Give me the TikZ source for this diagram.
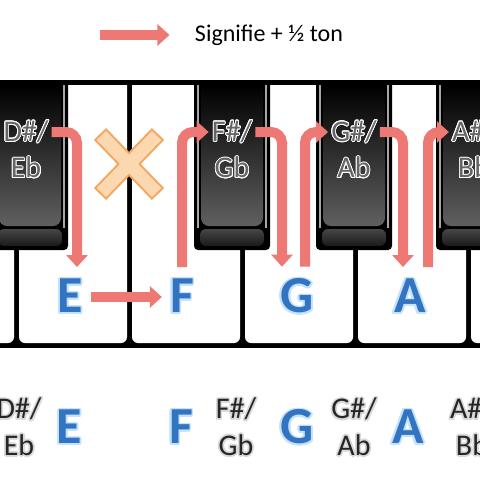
\documentclass[tikz,border=0pt]{standalone}
\usepackage{fontspec}
\setmainfont{Carlito}
\usepackage{contour}
\usetikzlibrary{arrows.meta}

\definecolor{halfred}{RGB}{238,120,116}
\definecolor{noteblue}{RGB}{50,116,194}
\definecolor{noteglow}{RGB}{196,226,250}
\definecolor{crossfill}{RGB}{252,216,176}
\definecolor{crossedge}{RGB}{244,166,92}

\newcommand{\bluenote}[1]{\contourlength{1.8pt}\contour{noteglow}{#1}}
\newcommand{\keyname}[1]{\contourlength{0.9pt}\contour{white}{#1}}
\newcommand{\rowname}[1]{\contourlength{1.6pt}\contour{gray!30}{#1}}

\tikzset{
  halfstep/.style={draw=halfred, line width=10pt, rounded corners=11pt,
    -{Triangle[width=21pt,length=12pt]}},
  note/.style={font=\bfseries\fontsize{52}{52}\selectfont, text=noteblue,
    inner xsep=8pt, inner ysep=12pt},
  keylabel/.style={font=\fontsize{30}{34}\selectfont, text=gray!80!black, inner sep=3pt},
  rowlabel/.style={font=\fontsize{30}{34}\selectfont, text=black!85, inner sep=2pt},
}

\begin{document}
\begin{tikzpicture}[x=1pt,y=-1pt]
\useasboundingbox (0,0) rectangle (480,480);

% legend
\node (legend) at (269,35) {\fontsize{24}{28}\selectfont Signifie + ½ ton};
\coordinate (legend-tail) at (100,35);
\draw[halfstep] (legend-tail) -- ([xshift=-22pt]legend.west);

% keyboard
\fill[black] (-10,80) rectangle (490,348);
\begin{scope}
  \clip (-10,85) rectangle (490,348);
  \foreach \x in {-94,19,132,245,358,471}
    \fill[white, rounded corners=6pt] (\x,60) rectangle ++(108,283);
\end{scope}
\foreach \c in {30,232,354,474} {
  \fill[black, rounded corners=4pt] (\c-38,80) rectangle (\c+38,250);
  \draw[gray!70, line width=1.2pt] (\c-34,85) -- (\c-34,228) (\c+34,85) -- (\c+34,228);
  \shade[top color=black, middle color=black!90, bottom color=gray!75!black,
    rounded corners=8pt] (\c-31,85) rectangle (\c+31,226);
  \shade[top color=gray!55!black, bottom color=gray!20!black,
    rounded corners=6pt] (\c-32,229) rectangle (\c+32,246);
}

% no black key between E and F
\draw[crossedge, line width=17pt] (100,134) -- (158,194) (100,194) -- (158,134);
\draw[crossfill, line width=13pt, shorten <=2pt, shorten >=2pt] (100,134) -- (158,194);
\draw[crossfill, line width=13pt, shorten <=2pt, shorten >=2pt] (100,194) -- (158,134);

% names on the keys
\foreach \n/\top/\bot/\c in {dis/D\#/Eb/26, fis/F\#/Gb/232, gis/G\#/Ab/354, ais/A\#/Bb/474} {
  \node[keylabel] (\n) at (\c,132) {\keyname{\top/}};
  \node[keylabel] (\n-b) at (\c,168) {\keyname{\bot}};
}
\foreach \n/\c in {E/70, F/182, G/297, A/410}
  \node[note] (\n) at (\c,297) {\bluenote{\n}};

% half steps
\coordinate (d-in) at (-22,262);
\draw[halfstep] (d-in) |- (dis.west);
\draw[halfstep] (dis.east) -| ([xshift=7pt]E.north);
\draw[halfstep] (E.east) -- (F.west);
\draw[halfstep] (F.north) |- (fis.west);
\draw[halfstep] (fis.east) -| ([xshift=-15pt]G.north);
\draw[halfstep] ([xshift=8pt]G.north) |- (gis.west);
\draw[halfstep] (gis.east) -| ([xshift=-7pt]A.north);
\draw[halfstep] ([xshift=18pt]A.north) |- (ais.west);

% row of names
\foreach \n/\top/\bot/\c in {dis/D\#/Eb/19, fis/F\#/Gb/236, gis/G\#/Ab/354, ais/A\#/Bb/472} {
  \node[rowlabel] (\n-row) at (\c,410) {\rowname{\top/}};
  \node[rowlabel] (\n-row-b) at (\c,446) {\rowname{\bot}};
}
\foreach \n/\c in {E/69, F/181, G/297, A/408}
  \node[note] (\n-row) at (\c,428) {\bluenote{\n}};
\end{tikzpicture}
\end{document}
